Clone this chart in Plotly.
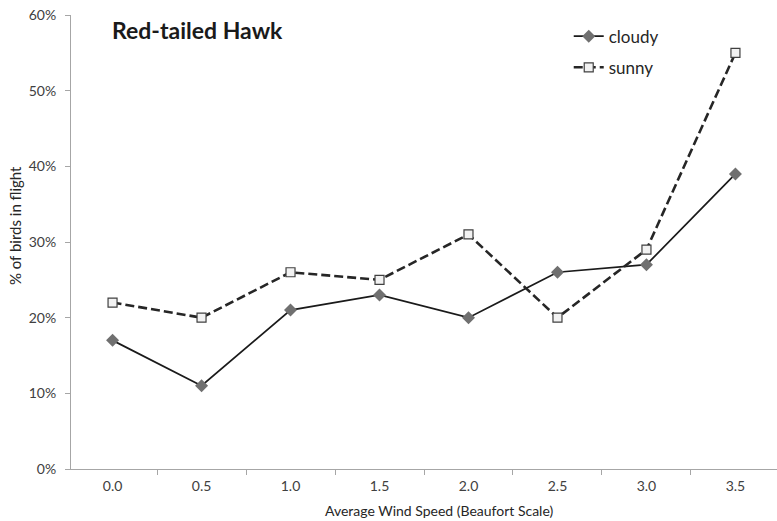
import plotly.graph_objects as go

wind_speed = ["0.0", "0.5", "1.0", "1.5", "2.0", "2.5", "3.0", "3.5"]
cloudy = [0.17, 0.11, 0.21, 0.23, 0.20, 0.26, 0.27, 0.39]
sunny = [0.22, 0.20, 0.26, 0.25, 0.31, 0.20, 0.29, 0.55]

FONT = "Lato, 'Open Sans', sans-serif"
TXT = "#404040"
AXIS = "#a6a6a6"

fig = go.Figure()
fig.add_trace(go.Scatter(
    x=wind_speed, y=cloudy, name="cloudy", mode="lines+markers",
    legendgroup="a",
    line=dict(color="#1a1a1a", width=1.7),
    marker=dict(symbol="diamond", size=10, color="#707070",
                line=dict(color="#707070", width=0)),
))
fig.add_trace(go.Scatter(
    x=wind_speed, y=sunny, name="sunny", mode="lines+markers",
    legendgroup="b",
    line=dict(color="#262626", width=2.6, dash="9px,4px"),
    marker=dict(symbol="square", size=9, color="#f2f2f2",
                line=dict(color="#404040", width=1.2)),
))

fig.update_layout(
    width=777, height=521,
    margin=dict(l=71, r=0, t=15, b=52),
    paper_bgcolor="white", plot_bgcolor="white",
    font=dict(family=FONT, color=TXT, size=14),
    showlegend=True,
    legend=dict(x=0.705, y=0.992, xanchor="left", yanchor="top",
                font=dict(size=17, color="#262626", family=FONT),
                bgcolor="rgba(0,0,0,0)", tracegroupgap=6, itemwidth=30),
    annotations=[
        dict(text="<b>Red-tailed Hawk</b>", x=0.055, y=0.967,
             xref="paper", yref="paper", xanchor="left", yanchor="middle",
             showarrow=False, font=dict(size=23, color="#1a1a1a", family=FONT)),
        dict(text="Average Wind Speed (Beaufort Scale)", x=0.521, y=-0.0925,
             xref="paper", yref="paper", xanchor="center", yanchor="middle",
             showarrow=False, font=dict(size=14, color="#262626", family=FONT)),
        dict(text="% of birds in flight", x=-0.0793, y=0.535, textangle=-90,
             xref="paper", yref="paper", xanchor="center", yanchor="middle",
             showarrow=False, font=dict(size=15, color="#262626", family=FONT)),
    ],
)
fig.update_xaxes(
    type="category", showgrid=False, showline=True, linecolor=AXIS, linewidth=1,
    ticks="outside", tickson="boundaries", ticklen=5, tickcolor=AXIS,
    tickfont=dict(size=14, color=TXT), ticklabelstandoff=4,
    zeroline=False,
)
fig.update_yaxes(
    range=[0, 0.6], dtick=0.1, tickformat=".0%", showgrid=False,
    showline=True, linecolor=AXIS, linewidth=1,
    ticks="outside", ticklen=5, tickcolor=AXIS,
    tickfont=dict(size=14, color=TXT), ticklabelstandoff=6,
    zeroline=False,
)

fig.write_html(
    "out.html",
    config={"displayModeBar": False},
    post_script="document.body.style.margin='0';document.body.style.overflow='hidden';",
)
